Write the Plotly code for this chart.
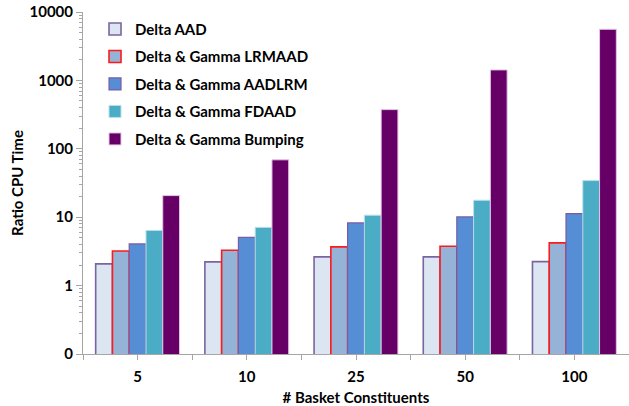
import plotly.graph_objects as go

# Basket sizes on the x axis
categories = ["5", "10", "25", "50", "100"]

# CPU time ratio per method
delta_aad = [2.08, 2.22, 2.63, 2.63, 2.24]
dg_lrmaad = [3.2, 3.28, 3.68, 3.76, 4.21]
dg_aadlrm = [4.07, 5.08, 8.25, 10.1, 11.3]
dg_fdaad = [6.4, 7.1, 10.7, 17.7, 34.3]
dg_bumping = [20.7, 69.0, 374.0, 1423.0, 5590.0]

y_tickvals = [0.1, 1, 10, 100, 1000, 10000]
y_ticktext = ["0", "1", "10", "100", "1000", "10000"]

series = [
    ("Delta AAD", delta_aad, "#dce6f2", "#7a64a0", 1.6),
    ("Delta & Gamma LRMAAD", dg_lrmaad, "#95b3d7", "#ff1a1a", 1.6),
    ("Delta & Gamma AADLRM", dg_aadlrm, "#558ed5", "#7a5ca6", 1.2),
    ("Delta & Gamma FDAAD", dg_fdaad, "#4bacc6", "#b9e0ea", 1.0),
    ("Delta & Gamma Bumping", dg_bumping, "#660066", "#e3c6e3", 1.0),
]

xpos = list(range(len(categories)))

fig = go.Figure()
for i, (name, vals, fill, edge, lw) in enumerate(series):
    fig.add_trace(go.Bar(
        name=name, x=xpos, y=vals,
        marker=dict(color=fill, line=dict(color=edge, width=lw)),
        legendgroup=f"g{i}",
    ))

font_bold = "Lato, 'Open Sans', sans-serif"
axis_color = "#a6a6a6"
txt = dict(family=font_bold, size=15, color="black", weight="bold")

minor_y = [k * 10 ** e for e in range(-1, 4) for k in range(2, 10)]

fig.update_layout(
    width=629, height=406,
    margin=dict(l=83, r=0, t=12, b=52),
    paper_bgcolor="white", plot_bgcolor="white",
    barmode="group", bargap=0.232, bargroupgap=0,
    font=dict(family=font_bold, size=15, color="black"),
    legend=dict(
        x=0.022, y=0.998, xanchor="left", yanchor="top",
        font=txt,
        tracegroupgap=5, bgcolor="rgba(0,0,0,0)",
        itemwidth=30,
    ),
    showlegend=True,
)

fig.update_xaxes(
    range=[-0.5, len(categories) - 0.5],
    tickmode="array", tickvals=xpos, ticktext=categories,
    ticks="outside", ticklen=5, tickcolor=axis_color,
    ticklabelstandoff=4,
    tickfont=txt,
    showline=True, linecolor=axis_color, linewidth=1,
    showgrid=False, zeroline=False,
    minor=dict(dtick=1, tick0=-0.5, ticks="outside", ticklen=5, tickcolor=axis_color),
    title=dict(text="# Basket Constituents", standoff=8, font=txt),
)

fig.update_yaxes(
    type="log", range=[-1, 4],
    tickmode="array", tickvals=y_tickvals, ticktext=y_ticktext,
    ticks="outside", ticklen=6, tickcolor=axis_color,
    tickfont=txt,
    showline=True, linecolor=axis_color, linewidth=1,
    showgrid=False, zeroline=False,
    minor=dict(tickvals=minor_y, ticks="outside", ticklen=3, tickcolor=axis_color, showgrid=False),
    title=dict(text="Ratio CPU Time", standoff=2, font=txt),
)

fig.write_html("out.html")
